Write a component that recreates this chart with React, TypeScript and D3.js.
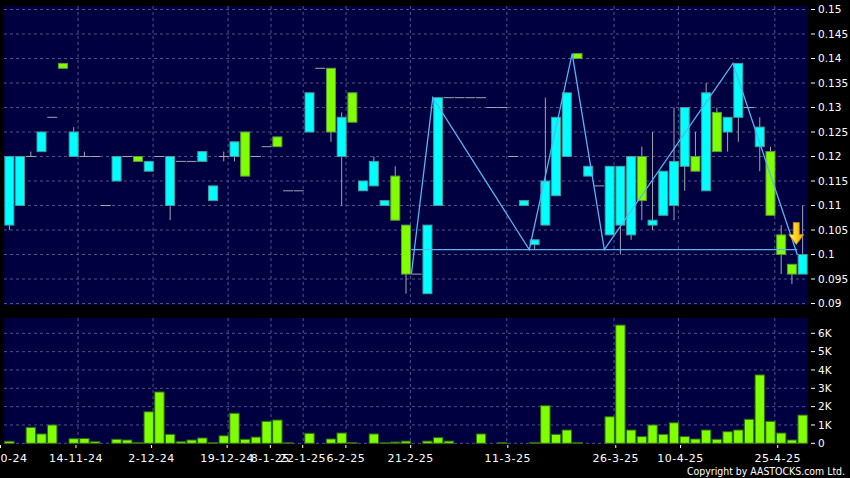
import React from 'react';
import * as d3 from 'd3';

// ---- data (one slot per trading session shown) ----
const opens = [0.106,0.11,0.12,0.121,0.128,0.139,0.12,0.12,0.12,0.11,0.115,0.12,0.12,0.117,0.12,0.11,0.119,0.119,0.119,0.111,0.12,0.12,0.125,0.12,0.122,0.124,0.113,0.113,0.125,0.138,0.138,0.12,0.133,0.113,0.114,0.11,0.116,0.106,0.096,0.092,0.11,0.132,0.132,0.132,0.132,0.13,0.13,0.12,0.11,0.102,0.106,0.112,0.12,0.141,0.116,0.114,0.104,0.106,0.104,0.12,0.106,0.108,0.11,0.118,0.12,0.113,0.129,0.125,0.128,0.13,0.122,0.121,0.104,0.098,0.096];
const highs = [0.12,0.12,0.121,0.125,0.128,0.139,0.126,0.121,0.12,0.11,0.12,0.12,0.12,0.119,0.12,0.12,0.119,0.119,0.121,0.114,0.121,0.123,0.125,0.12,0.122,0.124,0.113,0.113,0.133,0.138,0.138,0.129,0.133,0.115,0.12,0.111,0.118,0.106,0.096,0.106,0.132,0.132,0.132,0.132,0.132,0.13,0.13,0.12,0.111,0.103,0.132,0.128,0.133,0.141,0.118,0.114,0.118,0.118,0.12,0.122,0.125,0.117,0.13,0.13,0.125,0.135,0.13,0.128,0.139,0.13,0.128,0.122,0.106,0.098,0.11];
const lows = [0.105,0.11,0.12,0.121,0.128,0.138,0.12,0.12,0.12,0.11,0.115,0.12,0.119,0.117,0.12,0.107,0.119,0.119,0.119,0.111,0.119,0.119,0.116,0.12,0.122,0.122,0.113,0.113,0.125,0.138,0.123,0.11,0.127,0.113,0.114,0.11,0.107,0.092,0.096,0.092,0.11,0.132,0.132,0.132,0.132,0.13,0.13,0.12,0.11,0.101,0.106,0.112,0.12,0.14,0.116,0.114,0.104,0.1,0.103,0.107,0.105,0.108,0.107,0.113,0.117,0.113,0.121,0.121,0.123,0.13,0.117,0.108,0.096,0.094,0.096];
const closes = [0.12,0.12,0.12,0.125,0.128,0.138,0.125,0.12,0.12,0.11,0.12,0.12,0.119,0.119,0.12,0.12,0.119,0.119,0.121,0.114,0.12,0.123,0.116,0.12,0.122,0.122,0.113,0.113,0.133,0.138,0.125,0.128,0.127,0.115,0.119,0.111,0.107,0.096,0.096,0.106,0.132,0.132,0.132,0.132,0.132,0.13,0.13,0.12,0.111,0.103,0.115,0.128,0.133,0.14,0.118,0.114,0.118,0.118,0.12,0.111,0.107,0.117,0.119,0.13,0.117,0.133,0.121,0.128,0.139,0.13,0.126,0.108,0.1,0.096,0.1];
const volumes = [110,0,870,510,1000,0,250,260,90,0,220,180,50,1720,2800,490,90,180,290,40,410,1640,220,340,1200,1270,30,0,545,0,235,560,40,0,510,30,70,120,0,120,310,120,0,0,510,0,40,0,0,50,2050,490,725,50,0,0,1450,6450,725,365,1000,490,1120,365,235,725,220,635,725,1310,3730,1200,560,180,1540];

const dateLabels = ['31-10-24','14-11-24','2-12-24','19-12-24','8-1-25','22-1-25','6-2-25','21-2-25','11-3-25','26-3-25','10-4-25','25-4-25'];
const dateSlots = [0,7,14,21,25,28,32,38,47,57,63,72];

const priceTicks = [0.15,0.145,0.14,0.135,0.13,0.125,0.12,0.115,0.11,0.105,0.1,0.095,0.09];
const priceTickLabels = ['0.15','0.145','0.14','0.135','0.13','0.125','0.12','0.115','0.11','0.105','0.1','0.095','0.09'];
const volTicks = [0,1000,2000,3000,4000,5000,6000];
const volTickLabels = ['0','1K','2K','3K','4K','5K','6K'];

// pattern overlay (slot boundaries and prices)
const patternSlots = [38,40,49,53,56,68,74];
const patternPrices = [0.096,0.132,0.101,0.141,0.101,0.139,0.1];
const necklineSlots = [38,74];
const necklinePrice = 0.101;

const W = 850, H = 478;
const FONT = 'DejaVu Sans';

export default function App() {
  const n = closes.length;
  const x = d3.scaleLinear().domain([0, n]).range([4, 808]);
  const xTick = d3.scaleLinear().domain([0, n]).range([0.43, 810.1]);
  const yP = d3.scaleLinear().domain([0.09, 0.15]).range([303.5, 9.5]);
  const yV = d3.scaleLinear().domain([0, 6000]).range([443.3, 333.3]);
  const cx = (i: number) => x(i + 0.5);
  const bodyW = 9;
  const volW = 9.4;

  const gridColor = '#52528c';
  const wickColor = '#a4a4b0';

  const patternLine = d3.line<number>()
    .x((_, i) => x(patternSlots[i]))
    .y((p) => yP(p));

  const arrowX = x(patternSlots[patternSlots.length - 1]) - 1;
  const arrowTip = yP(necklinePrice) - 5;

  return (
    <svg width={W} height={H} style={{ position: 'absolute', left: 0, top: 0, display: 'block' }}
      fontFamily={FONT}>
      <rect x={0} y={0} width={W} height={H} fill="#000000" />
      {/* price panel */}
      <rect x={4} y={6} width={804} height={299} fill="#000040" />
      {priceTicks.map((t, i) => (
        <line key={'pg' + i} x1={4} x2={808} y1={yP(t)} y2={yP(t)} stroke={gridColor} strokeDasharray="3,3" strokeWidth={1} />
      ))}
      {dateSlots.slice(1).map((s, i) => (
        <line key={'pv' + i} x1={x(s) - 1} x2={x(s) - 1} y1={6} y2={305} stroke={gridColor} strokeDasharray="3,3" strokeWidth={1} />
      ))}
      {/* candles */}
      {closes.map((c, i) => {
        const o = opens[i];
        const hi = highs[i];
        const lo = lows[i];
        const px = cx(i);
        const wick = hi > lo ? (
          <line x1={px} x2={px} y1={yP(hi)} y2={yP(lo)} stroke={wickColor} strokeWidth={1} />
        ) : null;
        if (o === c) {
          return (
            <g key={'c' + i}>
              {wick}
              <line x1={px - 5} x2={px + 5} y1={yP(c)} y2={yP(c)} stroke={wickColor} strokeWidth={1} />
            </g>
          );
        }
        const up = c > o;
        const top = yP(Math.max(o, c));
        const bot = yP(Math.min(o, c));
        return (
          <g key={'c' + i}>
            {wick}
            <rect x={px - bodyW / 2} y={top} width={bodyW} height={Math.max(1, bot - top)}
              fill={up ? '#00ffff' : '#80ff00'} stroke={up ? '#4a9a9a' : '#5e9a40'} strokeWidth={1} />
          </g>
        );
      })}
      {/* pattern overlay */}
      <line x1={x(necklineSlots[0])} x2={x(necklineSlots[1])} y1={yP(necklinePrice)} y2={yP(necklinePrice)}
        stroke="#56b4f2" strokeWidth={1.3} />
      <path d={patternLine(patternPrices) || ''} fill="none" stroke="#56b4f2" strokeWidth={1.3} />
      <defs>
        <linearGradient id="arrowGrad" x1="0" y1="0" x2="1" y2="0">
          <stop offset="0" stopColor="#fff09a" />
          <stop offset="0.45" stopColor="#ffd21e" />
          <stop offset="1" stopColor="#f0a800" />
        </linearGradient>
      </defs>
      <path
        d={`M${arrowX - 3},${arrowTip - 22} L${arrowX + 3},${arrowTip - 22} L${arrowX + 3},${arrowTip - 10} L${arrowX + 7.5},${arrowTip - 10} L${arrowX},${arrowTip} L${arrowX - 7.5},${arrowTip - 10} L${arrowX - 3},${arrowTip - 10} Z`}
        fill="url(#arrowGrad)" stroke="#c08a00" strokeWidth={0.8} />
      {/* price axis */}
      {priceTicks.map((t, i) => (
        <g key={'pt' + i}>
          <line x1={811} x2={815} y1={yP(t)} y2={yP(t)} stroke="#ffffff" strokeWidth={1} />
          <text x={818} y={yP(t)} dy="0.36em" fill="#ffffff" fontSize={10.5}>{priceTickLabels[i]}</text>
        </g>
      ))}

      {/* volume panel */}
      <rect x={4} y={318} width={804} height={126} fill="#000040" />
      {volTicks.map((t, i) => (
        <line key={'vg' + i} x1={4} x2={808} y1={yV(t)} y2={yV(t)} stroke={gridColor} strokeDasharray="3,3" strokeWidth={1} />
      ))}
      {dateSlots.slice(1).map((s, i) => (
        <line key={'vv' + i} x1={x(s) - 1} x2={x(s) - 1} y1={318} y2={444} stroke={gridColor} strokeDasharray="3,3" strokeWidth={1} />
      ))}
      {volumes.map((v, i) => v > 0 ? (
        <rect key={'v' + i} x={cx(i) - volW / 2} y={yV(v)} width={volW} height={Math.max(0.5, yV(0) - yV(v))}
          fill="#80ff00" stroke="#2f6a10" strokeWidth={1} />
      ) : null)}
      {volTicks.map((t, i) => (
        <g key={'vt' + i}>
          <line x1={811} x2={815} y1={yV(t)} y2={yV(t)} stroke="#ffffff" strokeWidth={1} />
          <text x={818} y={yV(t)} dy="0.36em" fill="#ffffff" fontSize={10.5}>{volTickLabels[i]}</text>
        </g>
      ))}

      {/* date axis */}
      {dateSlots.map((s, i) => (
        <g key={'dt' + i}>
          <line x1={xTick(s)} x2={xTick(s)} y1={445} y2={448} stroke="#ffffff" strokeWidth={1} />
          <text x={xTick(s)} y={461.5} textAnchor="middle" fill="#ffffff" fontSize={11} letterSpacing={0.5}>{dateLabels[i]}</text>
        </g>
      ))}
      <text x={845} y={475} textAnchor="end" fill="#ffffff" fontSize={11} textLength={158} lengthAdjust="spacingAndGlyphs">Copyright by AASTOCKS.com Ltd.</text>
    </svg>
  );
}
